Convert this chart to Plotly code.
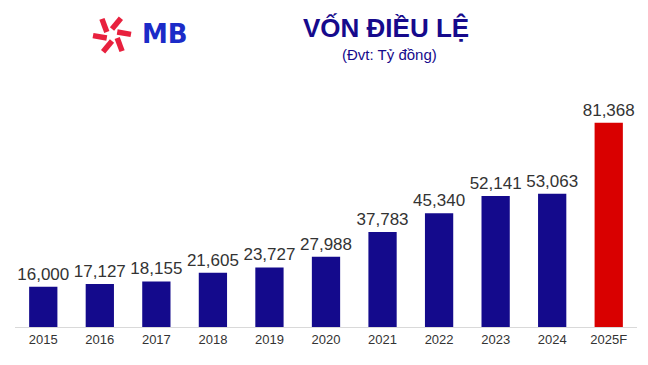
import math
import plotly.graph_objects as go

years = ["2015", "2016", "2017", "2018", "2019", "2020", "2021", "2022", "2023", "2024", "2025F"]
capital = [16000, 17127, 18155, 21605, 23727, 27988, 37783, 45340, 52141, 53063, 81368]
bar_colors = ["#140A8C"] * 10 + ["#D90000"]
labels = [f"{v:,}" for v in capital]

fig = go.Figure()
fig.add_trace(go.Bar(
    x=years, y=capital, marker=dict(color=bar_colors, line=dict(width=0)),
    text=labels, textposition="outside", cliponaxis=False, constraintext="none",
    textfont=dict(family="Liberation Sans, Arial", size=17, color="#333333"),
    hoverinfo="skip",
))

OFF = 8  # page body margin
W, H = 648, 365
ml, mr, mt, mb = 15 - OFF, 11 + OFF, 101 - OFF, 38 + OFF
pw, ph = W - ml - mr, H - mt - mb

def px2paper(px, py):
    # px, py are screen pixel coordinates
    return (px - OFF - ml) / pw, (H - mb - (py - OFF)) / ph

# MB logo star (decorative)
shapes = []
cx, cy = px2paper(112, 35)
for k in range(6):
    a0 = math.radians(90 + 60 * k)
    a1 = math.radians(90 + 60 * k - 28)
    r0, r1 = 6, 19
    shapes.append(dict(
        type="line", xref="paper", yref="paper",
        xsizemode="pixel", ysizemode="pixel", xanchor=cx, yanchor=cy,
        x0=r0 * math.cos(a0), y0=r0 * math.sin(a0),
        x1=r1 * math.cos(a1), y1=r1 * math.sin(a1),
        line=dict(color="#E8213E", width=5.5),
    ))

annotations = [
    dict(text="<b>MB</b>", xref="paper", yref="paper",
         x=px2paper(165, 0)[0], y=px2paper(0, 34)[1], xanchor="center", yanchor="middle",
         showarrow=False, font=dict(family="DejaVu Sans, Arial", size=26, color="#1B2BC8")),
    dict(text="<b>VỐN ĐIỀU LỆ</b>", xref="paper", yref="paper",
         x=px2paper(386, 0)[0], y=px2paper(0, 28)[1], xanchor="center", yanchor="middle",
         showarrow=False, font=dict(family="Liberation Sans, Arial", size=26, color="#160A8C")),
    dict(text="(Đvt: Tỷ đồng)", xref="paper", yref="paper",
         x=px2paper(389, 0)[0], y=px2paper(0, 55)[1], xanchor="center", yanchor="middle",
         showarrow=False, font=dict(family="Liberation Sans, Arial", size=15, color="#160A8C")),
]

fig.update_layout(
    width=W, height=H,
    margin=dict(l=ml, r=mr, t=mt, b=mb, pad=0),
    paper_bgcolor="white", plot_bgcolor="white",
    bargap=0.5, showlegend=False,
    xaxis=dict(type="category", showline=True, linecolor="#D9D9D9", linewidth=1,
               showgrid=False, ticks="", ticklen=0,
               tickfont=dict(family="Liberation Sans, Arial", size=13, color="#333333")),
    yaxis=dict(range=[0, 90000], visible=False, showgrid=False, zeroline=False),
    shapes=shapes, annotations=annotations,
)

fig.write_html("out.html")
